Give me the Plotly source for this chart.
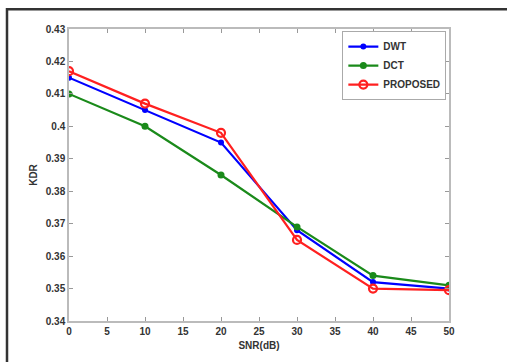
import plotly.graph_objects as go

snr = [0, 10, 20, 30, 40, 50]
dwt = [0.415, 0.405, 0.395, 0.368, 0.352, 0.350]
dct = [0.410, 0.400, 0.385, 0.369, 0.354, 0.351]
proposed = [0.417, 0.407, 0.398, 0.365, 0.350, 0.3495]
x_ticks = [0, 5, 10, 15, 20, 25, 30, 35, 40, 45, 50]
y_ticks = [0.34, 0.35, 0.36, 0.37, 0.38, 0.39, 0.40, 0.41, 0.42, 0.43]
y_labels = ["0.34", "0.35", "0.36", "0.37", "0.38", "0.39", "0.4", "0.41", "0.42", "0.43"]

W, H = 507, 362
L, R, T, B = 69, 58, 29, 39
pw, ph = W - L - R, H - T - B

fig = go.Figure()
fig.add_trace(go.Scatter(x=snr, y=dwt, name="<b>DWT</b>", mode="lines+markers",
                         line=dict(color="#0000ff", width=2.2),
                         marker=dict(symbol="circle", size=6, color="#0000ff")))
fig.add_trace(go.Scatter(x=snr, y=dct, name="<b>DCT</b>", mode="lines+markers",
                         line=dict(color="#1a8a1a", width=2.2),
                         marker=dict(symbol="circle", size=7, color="#1a8a1a")))
fig.add_trace(go.Scatter(x=snr, y=proposed, name="<b>PROPOSED</b>", mode="lines+markers",
                         line=dict(color="#ff2020", width=2.2),
                         marker=dict(symbol="circle-open", size=8, color="#ff2020",
                                     line=dict(width=2.2))))

tf = dict(family="Liberation Sans, Arial", size=10, color="#333333")
axis_common = dict(showgrid=False, zeroline=False, showline=True, mirror="ticks",
                   linecolor="#bbbbbb", linewidth=1.5, ticks="inside", ticklen=4,
                   tickcolor="#999999", tickfont=tf)

fig.update_layout(
    width=W, height=H,
    margin=dict(l=L, r=R, t=T, b=B),
    paper_bgcolor="white", plot_bgcolor="white",
    font=dict(family="Liberation Sans, Arial", size=10, color="#333333"),
    xaxis=dict(range=[0, 50], tickvals=x_ticks,
               ticktext=["<b>%d</b>" % v for v in x_ticks],
               title=dict(text="<b>SNR(dB)</b>", standoff=6, font=tf),
               **axis_common),
    yaxis=dict(range=[0.34, 0.43], tickvals=y_ticks,
               ticktext=["<b>%s</b>" % s for s in y_labels],
               title=dict(text="<b>KDR</b>", standoff=6, font=tf),
               **axis_common),
    legend=dict(x=0.993, y=0.993, xanchor="right", yanchor="top",
                bgcolor="white", bordercolor="#aaaaaa", borderwidth=1,
                font=tf, tracegroupgap=0, itemwidth=30),
    showlegend=True,
)

# outer dark frame around the figure image
x0 = (7 - L) / pw
x1 = (W + 10 - L) / pw
y1 = (H - B - 9) / ph
y0 = (H - B - (H + 10)) / ph
fig.add_shape(type="rect", xref="paper", yref="paper", x0=x0, x1=x1, y0=y0, y1=y1,
              line=dict(color="#333333", width=2.5), fillcolor="rgba(0,0,0,0)", layer="above")

fig.write_html("out.html")
